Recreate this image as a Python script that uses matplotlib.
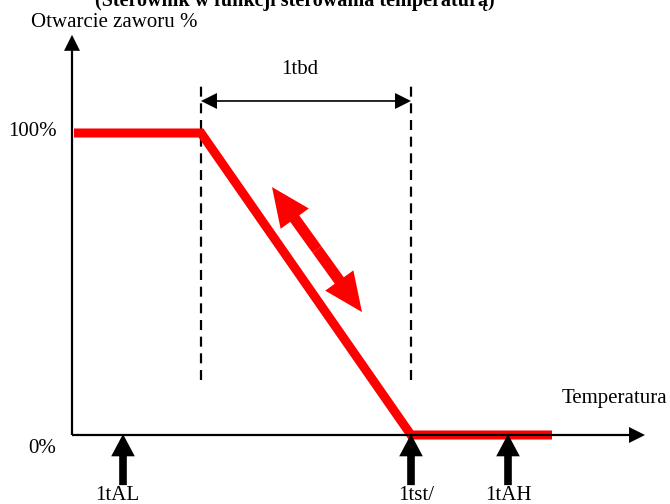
import matplotlib.pyplot as plt
from matplotlib.patches import FancyArrowPatch, ArrowStyle

plt.rcParams['font.family'] = ['Liberation Serif', 'DejaVu Serif']

# charakterystyka zaworu (temperatura w jednostkach umownych, otwarcie w %)
curve_temp = [2, 129, 339, 480]
curve_open = [100, 100, 0, 0]

# punkty nastaw na osi temperatury
setpoint_names = ['1tAL', '1tst/', '1tAH']
setpoint_temp = [51, 339, 436]
setpoint_label_x = [45.5, 344, 436.5]

# pasmo 1tbd
band_start = 129
band_end = 339

# zakresy osi
x_axis_end = 573
y_axis_end = 132.5

FS = 15


def arrow(ax, start, end, color='black', tail=1.4, hl=11.5, hw=11.5, z=3):
    style = ArrowStyle('Simple', head_length=hl, head_width=hw, tail_width=tail)
    ax.add_patch(FancyArrowPatch(start, end, arrowstyle=style, mutation_scale=1,
                                 color=color, lw=0, shrinkA=0, shrinkB=0, zorder=z))


def double_arrow(ax, a, b, **kw):
    mid = ((a[0] + b[0]) / 2, (a[1] + b[1]) / 2)
    arrow(ax, mid, a, **kw)
    arrow(ax, mid, b, **kw)


def main():
    fig = plt.figure(figsize=(6.7, 5.04), dpi=100)
    ax = fig.add_axes([0, 0, 1, 1])
    ax.set_xlim(-72, 598)
    ax.set_ylim(-22.85, 144.04)
    ax.axis('off')

    # osie
    arrow(ax, (0, 0), (x_axis_end, 0), tail=1.6)
    arrow(ax, (0, 0), (0, y_axis_end), tail=1.6)

    # linie przerywane
    for x in (band_start, band_end):
        ax.plot([x, x], [18.2, 117.5], color='black', lw=1.6,
                dashes=(4.5, 3), zorder=1)

    # pasmo 1tbd
    double_arrow(ax, (band_start, 110.6), (band_end, 110.6), tail=1.2)
    ax.text((band_start + band_end) / 2 - 6, 119.5, '1tbd', ha='center',
            va='baseline', fontsize=FS)

    # charakterystyka
    ax.plot(curve_temp, curve_open, color='#ff0000', lw=6.5,
            solid_joinstyle='miter', solid_capstyle='butt', zorder=2)

    # czerwona strzałka podwójna
    double_arrow(ax, (200, 82.1), (290, 40.7), color='#ff0000', tail=8,
                 hl=28, hw=25, z=2)

    # nastawy
    for x in setpoint_temp:
        arrow(ax, (x, -16.6), (x, 0.3), tail=5.5, hl=16, hw=17, z=4)
    for name, x in zip(setpoint_names, setpoint_label_x):
        ax.text(x, -21.5, name, ha='center', va='baseline', fontsize=FS)

    # opisy
    ax.text(-39.5, 99.0, '100%', ha='center', va='baseline', fontsize=FS)
    ax.text(-29.5, -6.0, '0%', ha='center', va='baseline', fontsize=FS)
    ax.text(542.5, 10.6, 'Temperatura', ha='center', va='baseline', fontsize=FS)
    ax.text(42, 135.1, 'Otwarcie zaworu %', ha='center', va='baseline', fontsize=FS)
    ax.text(223, 142.1, '(Sterownik w funkcji sterowania temperaturą)',
            ha='center', va='baseline', fontsize=14.5, fontweight='bold')

    fig.savefig('out.png', dpi=100)
    plt.close(fig)


if __name__ == '__main__':
    main()
